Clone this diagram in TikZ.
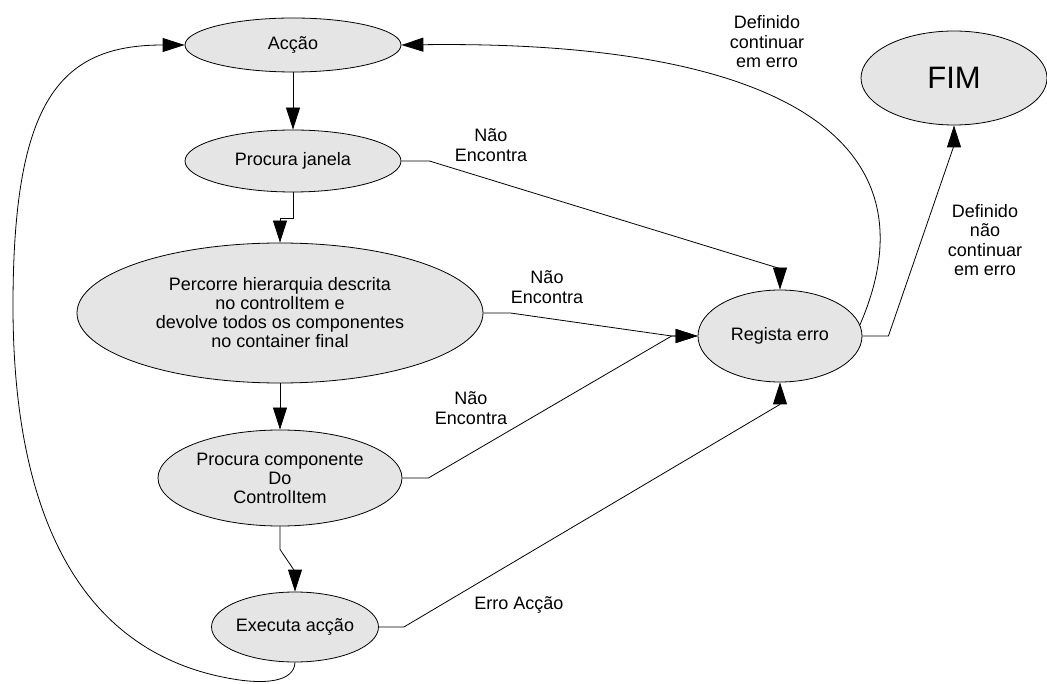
\documentclass[tikz,border=0pt]{standalone}
\usepackage{fontspec}
\setmainfont{Liberation Sans}
\usetikzlibrary{arrows.meta,shapes.geometric,calc}
\tikzset{
  state/.style   ={ellipse,draw,fill=gray!20,line width=0.8pt,inner sep=0pt,align=center,
                   font=\fontsize{18}{19}\selectfont},
  fimstate/.style={state,font=\fontsize{31}{34}\selectfont},
  flow/.style    ={-{Triangle[length=22pt,width=14pt]},line width=0.8pt},
  lbl/.style     ={align=center,font=\fontsize{18}{19.5}\selectfont},
}

\begin{document}
\begin{tikzpicture}[x=1pt,y=-1pt]
  \useasboundingbox (0,0) rectangle (1047,684);
  % states
  \node[state,minimum width=216pt,minimum height=54pt] (accao) at (293,45) {Acção};
  \node[state,minimum width=216pt,minimum height=62pt] (janela) at (293,161) {Procura janela};
  \node[state,minimum width=406pt,minimum height=140pt] (percorre) at (280,313)
       {Percorre hierarquia descrita\\no controlItem e\\devolve todos os componentes\\no container final};
  \node[state,minimum width=244pt,minimum height=96pt] (componente) at (280,478)
       {Procura componente\\Do\\ControlItem};
  \node[state,minimum width=164pt,minimum height=70pt] (executa) at (295,627) {Executa acção};
  \node[state,minimum width=164pt,minimum height=92pt] (regista) at (780,336) {Regista erro};
  \node[fimstate,minimum width=186pt,minimum height=94pt] (fim) at (954,78) {FIM};
  % main sequence
  \draw[flow] (accao) -- (janela);
  \draw[flow] (janela.south) -- ++(0,26) -| (percorre.north);
  \draw[flow] (percorre) -- (componente);
  \draw[flow] (componente.south) -- ++(0,23) -- ($(executa.north)+(0,-20)$) -- (executa.north);
  % back to the start
  \draw[flow] (executa.south) .. controls (294,683) and (262,684) .. (233,679)
        .. controls (60,650) and (13,480) .. (13,306)
        .. controls (13,100) and (60,45) .. (accao.west);
  % errors
  \draw[flow] (janela.east) -- ++(28,0) -- ($(regista.north)+(0,-21)$) -- (regista.north);
  \draw[flow] (percorre.east) -- ++(27,0) -- ($(regista.west)+(-26,0)$) -- (regista.west);
  \draw[flow] (componente.east) -- ++(26,0) -- ($(regista.west)+(-26,0)$) -- (regista.west);
  \draw[flow] (executa.east) -- ++(25,0) -- ($(regista.south)+(0,22)$) -- (regista.south);
  \draw[flow] (regista.east) -- ++(26,0) -- ($(fim.south)+(0,20)$) -- (fim.south);
  \draw[flow] (regista.8) .. controls (940,140) and (780,40) .. (accao.east);
  % labels
  \node[lbl] (l1) at (491,145) {Não\\Encontra};
  \node[lbl] (l2) at (547,287) {Não\\Encontra};
  \node[lbl] (l3) at (471,408) {Não\\Encontra};
  \node[lbl] (l4) at (519,605) {Erro Acção};
  \node[lbl] (l5) at (767,42) {Definido\\continuar\\em erro};
  \node[lbl] (l6) at (985,240) {Definido\\não\\continuar\\em erro};
\end{tikzpicture}
\end{document}
